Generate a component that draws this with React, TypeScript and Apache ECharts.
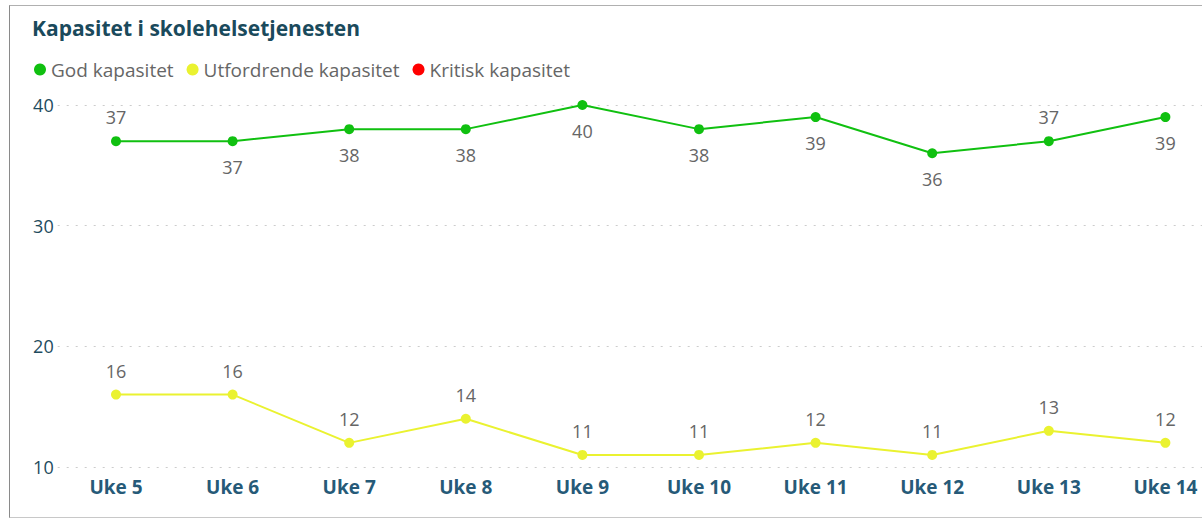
import React, { useEffect, useRef } from "react";
import * as echarts from "echarts";

const categories = ["Uke 5", "Uke 6", "Uke 7", "Uke 8", "Uke 9", "Uke 10", "Uke 11", "Uke 12", "Uke 13", "Uke 14"];
const godKapasitet = [37, 37, 38, 38, 40, 38, 39, 36, 37, 39];
const godLabelPos = ["top", "bottom", "bottom", "bottom", "bottom", "bottom", "bottom", "bottom", "top", "bottom"];
const utfordrendeKapasitet = [16, 16, 12, 14, 11, 11, 12, 11, 13, 12];
const kritiskKapasitet: (number | null)[] = [];
const yTicks = { min: 10, max: 40, interval: 10 };

const FONT = "'Open Sans', 'Noto Sans', sans-serif";
const GREEN = "#10C010";
const YELLOW = "#EAF230";
const RED = "#FF0000";

export default function App() {
  const ref = useRef<HTMLDivElement>(null);
  useEffect(() => {
    if (!ref.current) return;
    const chart = echarts.init(ref.current, undefined, { renderer: "svg" });
    const labelStyle = { color: "#666666", fontSize: 18, fontFamily: FONT };
    chart.setOption({
      animation: false,
      title: {
        text: "Kapasitet i skolehelsetjenesten",
        left: 27,
        top: 12,
        textStyle: { color: "#1A4A5C", fontSize: 21, fontWeight: "bold", fontFamily: FONT },
      },
      legend: {
        left: 29,
        top: 55,
        icon: "circle",
        itemWidth: 12,
        itemHeight: 12,
        itemGap: 13,
        textStyle: { color: "#666666", fontSize: 19, fontFamily: FONT },
        data: ["God kapasitet", "Utfordrende kapasitet", "Kritisk kapasitet"],
      },
      grid: { left: 57.7, right: 26.3, top: 105, bottom: 52, containLabel: false },
      xAxis: {
        type: "category",
        data: categories,
        boundaryGap: true,
        axisLine: { show: false },
        axisTick: { show: false },
        axisLabel: { color: "#265A78", fontSize: 19, fontWeight: "bold", fontFamily: FONT, margin: 10 },
      },
      yAxis: {
        type: "value",
        min: yTicks.min,
        max: yTicks.max,
        interval: yTicks.interval,
        axisLine: { show: false },
        axisTick: { show: false },
        axisLabel: { color: "#1E4B5E", fontSize: 18, fontFamily: FONT, margin: 4 },
        splitLine: { lineStyle: { color: "#cccccc", type: [2, 7], width: 1 } },
      },
      series: [
        {
          name: "God kapasitet",
          type: "line",
          data: godKapasitet.map((v, i) => ({ value: v, label: { position: godLabelPos[i], distance: godLabelPos[i] === "top" ? 10 : 12 } })),
          color: GREEN,
          symbol: "circle",
          symbolSize: 10,
          lineStyle: { width: 2, color: GREEN },
          itemStyle: { color: GREEN },
          label: { show: true, ...labelStyle },
        },
        {
          name: "Utfordrende kapasitet",
          type: "line",
          data: utfordrendeKapasitet,
          color: YELLOW,
          symbol: "circle",
          symbolSize: 10,
          lineStyle: { width: 2, color: YELLOW },
          itemStyle: { color: YELLOW },
          label: { show: true, position: "top", distance: 10, ...labelStyle },
        },
        {
          name: "Kritisk kapasitet",
          type: "line",
          data: kritiskKapasitet,
          color: RED,
          symbol: "circle",
          itemStyle: { color: RED },
        },
      ],
    });
    return () => chart.dispose();
  }, []);
  return (
    <div style={{ position: "absolute", left: 0, top: 0, width: 1202, height: 519, overflow: "hidden", background: "#fff" }}>
      <div style={{ position: "absolute", left: 9, top: 5, width: 1260, height: 511, borderLeft: "1px solid #8a8a8a", borderTop: "1px solid #b0b0b0", borderBottom: "1px solid #c8c8c8" }} />
      <div ref={ref} style={{ position: "absolute", left: 0, top: 0, width: 1250, height: 519 }} />
    </div>
  );
}
